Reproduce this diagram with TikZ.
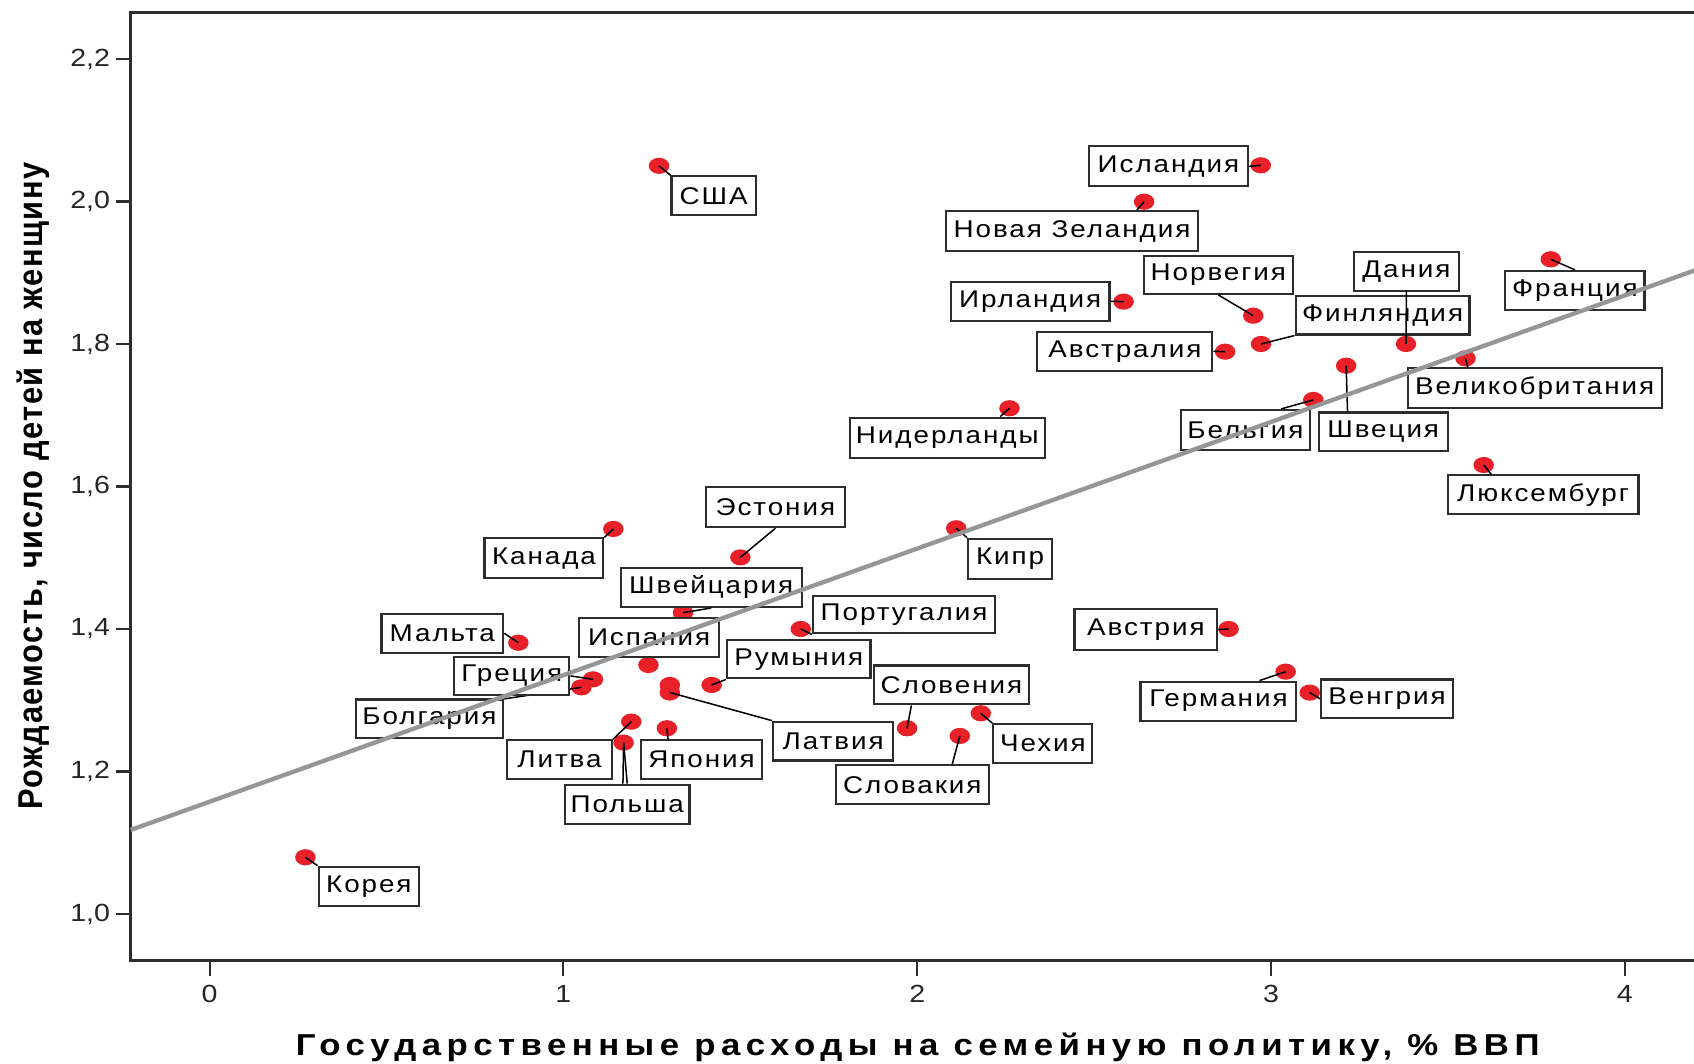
\documentclass[tikz,border=0pt]{standalone}
\usepackage{graphicx}
\usepackage{fontspec}
\setmainfont{Liberation Sans}[FakeStretch=1.15]
\newfontfamily\lblf{Liberation Sans}[FakeStretch=1.15,LetterSpace=8]
\newfontfamily\ttlf{Liberation Sans}[FakeStretch=1.15,LetterSpace=18]
\newfontfamily\yttlf{Liberation Sans}[LetterSpace=5]
\usetikzlibrary{shapes.geometric,calc}
\definecolor{dotred}{RGB}{232,32,40}
\definecolor{framec}{RGB}{45,45,45}
\definecolor{regr}{RGB}{150,150,150}
\begin{document}
\begin{tikzpicture}[x=1pt,y=-1pt,
  pt/.style={ellipse,fill=dotred,inner sep=0pt,minimum width=19pt,minimum height=15pt},
  lbl/.style={draw=framec,line width=2pt,fill=white,inner sep=0pt,minimum height=36pt,
     font=\lblf\fontsize{22.4}{24}\selectfont},
  lead/.style={black,line width=1.4pt},
  tickline/.style={framec,line width=2pt},
  ticklbl/.style={font=\fontsize{23}{24}\selectfont,text=black!85,inner sep=0pt}
]
\useasboundingbox (0,0) rectangle (1568,984);
\clip (0,0) rectangle (1568,984);
\fill[white] (0,0) rectangle (1568,984);

% frame
\coordinate (ftr) at (1570,11.5);
\coordinate (ftl) at (121,11.5);
\coordinate (fbl) at (121,889);
\coordinate (fbr) at (1570,889);
\draw[framec,line width=2.5pt] (ftr) -- (ftl) -- (fbl) -- (fbr);

% y ticks
\foreach \v/\t in {1.0/{1,0},1.2/{1,2},1.4/{1,4},1.6/{1,6},1.8/{1,8},2.0/{2,0},2.2/{2,2}}{
  \pgfmathsetmacro{\yy}{846-(\v-1)*659.5}
  \draw[tickline] (107,\yy) -- (121,\yy);
  \node[ticklbl,anchor=east] at (102,\yy) {\t};
}
% x ticks
\foreach \u in {0,1,2,3,4}{
  \pgfmathsetmacro{\xx}{194+327.5*\u}
  \draw[tickline] (\xx,889) -- (\xx,903);
  \node[ticklbl] at (\xx,920) {\u};
}

% titles
\node[anchor=base,inner sep=0pt,font=\ttlf\bfseries\fontsize{28}{30}\selectfont] (xt) at (849.5,977)
  {Государственные расходы на семейную политику, \% ВВП};
\node[anchor=base,rotate=90,inner sep=0pt] (yt) at (39.6,450)
  {\scalebox{1}[1.12]{\yttlf\bfseries\fontsize{28.5}{30}\selectfont Рождаемость, число детей на женщину}};

% data points
\node[pt] (d-usa) at (610,153.5) {};
\node[pt] (d-isl) at (1167,153) {};
\node[pt] (d-nz)  at (1059,186.7) {};
\node[pt] (d-fra) at (1435.4,240) {};
\node[pt] (d-irl) at (1040,279.2) {};
\node[pt] (d-nor) at (1160,292.2) {};
\node[pt] (d-fin) at (1167.2,318.4) {};
\node[pt] (d-dan) at (1301.4,318.4) {};
\node[pt] (d-aus) at (1134,325.5) {};
\node[pt] (d-gbr) at (1356.5,331.7) {};
\node[pt] (d-swe) at (1246,338.5) {};
\node[pt] (d-bel) at (1215.6,370.2) {};
\node[pt] (d-ned) at (934.4,377.9) {};
\node[pt] (d-lux) at (1373.3,430.4) {};
\node[pt] (d-cyp) at (885.1,489) {};
\node[pt] (d-can) at (567.7,489.6) {};
\node[pt] (d-est) at (685.3,515.9) {};
\node[pt] (d-sui) at (632.2,567.1) {};
\node[pt] (d-por) at (741.2,582.2) {};
\node[pt] (d-aut) at (1137.2,582.2) {};
\node[pt] (d-mlt) at (479.8,594.9) {};
\node[pt] (d-esp) at (600.2,615.5) {};
\node[pt] (d-deu) at (1190,621.7) {};
\node[pt] (d-grc) at (548.9,628.8) {};
\node[pt] (d-bgr) at (538.2,636.2) {};
\node[pt] (d-lva2) at (620,634) {};
\node[pt] (d-lva) at (620,641) {};
\node[pt] (d-rou) at (658.7,634) {};
\node[pt] (d-hun) at (1212.3,641.1) {};
\node[pt] (d-cze) at (907.8,660.2) {};
\node[pt] (d-ltu) at (584.3,668) {};
\node[pt] (d-jpn) at (617.3,674.1) {};
\node[pt] (d-svn) at (839.6,674.1) {};
\node[pt] (d-svk) at (888.4,681.2) {};
\node[pt] (d-pol) at (577.2,687.4) {};
\node[pt] (d-kor) at (282.7,793.5) {};

% a leader hidden behind a box
\coordinate (bgr-end) at (466,647);
\draw[lead] (d-bgr.center) -- (bgr-end);

% labels
\node[lbl,minimum width=78pt] (l-usa) at (660.6,181.2) {США};
\node[lbl,minimum width=147pt,minimum height=37pt] (l-isl) at (1081.5,154) {Исландия};
\node[lbl,minimum width=233pt,minimum height=37pt] (l-nz) at (992.3,214.1) {Новая Зеландия};
\node[lbl,minimum width=147pt] (l-irl) at (953.5,278.9) {Ирландия};
\node[lbl,minimum width=138pt,minimum height=35pt] (l-nor) at (1127.7,254.5) {Норвегия};
\node[lbl,minimum width=162pt] (l-aus) at (1041.2,325.2) {Австралия};
\node[lbl,minimum width=161pt] (l-fin) at (1279.7,291.6) {Финляндия};
\node[lbl,minimum width=97.5pt] (l-dan) at (1301.8,251) {Дания};
\node[lbl,minimum width=129pt] (l-fra) at (1457.7,268.8) {Франция};
\node[lbl,minimum width=235pt,minimum height=37pt] (l-gbr) at (1420.5,359.5) {Великобритания};
\node[lbl,minimum width=119.5pt] (l-swe) at (1280.3,399.8) {Швеция};
\node[lbl,minimum width=120pt,minimum height=37pt] (l-bel) at (1152.8,398) {Бельгия};
\node[lbl,minimum width=176.6pt] (l-lux) at (1428.3,457.9) {Люксембург};
\node[lbl,minimum width=180.4pt,minimum height=37pt] (l-ned) at (876.8,405.1) {Нидерланды};
\node[lbl,minimum width=77.7pt,minimum height=37pt] (l-cyp) at (935,517.2) {Кипр};
\node[lbl,minimum width=128.5pt,minimum height=37pt] (l-est) at (717.7,469.5) {Эстония};
\node[lbl,minimum width=110pt,minimum height=37pt] (l-can) at (503.5,516.8) {Канада};
\node[lbl,minimum width=167.5pt] (l-sui) at (658.2,543.8) {Швейцария};
\node[lbl,minimum width=130pt,minimum height=35.5pt] (l-esp) at (600.8,590) {Испания};
\node[lbl,minimum width=168.5pt,minimum height=35pt] (l-por) at (836.8,568.8) {Португалия};
\node[lbl,minimum width=132.8pt,minimum height=35.5pt] (l-rou) at (739.3,610.2) {Румыния};
\node[lbl,minimum width=143.7pt] (l-svn) at (880.6,634) {Словения};
\node[lbl,minimum width=91.7pt] (l-cze) at (965.3,688.3) {Чехия};
\node[lbl,minimum width=141.7pt] (l-svk) at (844.4,726.3) {Словакия};
\node[lbl,minimum width=111.5pt] (l-lva) at (771.2,686) {Латвия};
\node[lbl,minimum width=112.7pt] (l-mlt) at (409.4,586.2) {Мальта};
\node[lbl,minimum width=106.7pt,minimum height=35.5pt] (l-grc) at (473.7,625.6) {Греция};
\node[lbl,minimum width=136.5pt] (l-bgr) at (397.5,665.4) {Болгария};
\node[lbl,minimum width=97.3pt] (l-ltu) at (517.9,703.2) {Литва};
\node[lbl,minimum width=115.2pt] (l-pol) at (580.6,744.4) {Польша};
\node[lbl,minimum width=112.3pt] (l-jpn) at (649.4,703.2) {Япония};
\node[lbl,minimum width=132.2pt,minimum height=37.5pt] (l-aut) at (1060.7,582.8) {Австрия};
\node[lbl,minimum width=144.2pt] (l-deu) at (1127.8,649) {Германия};
\node[lbl,minimum width=121.6pt] (l-hun) at (1283.8,646.9) {Венгрия};
\node[lbl,minimum width=92.9pt] (l-kor) at (341.4,820.3) {Корея};

% leaders
\draw[lead] (d-usa.center) -- (l-usa.north west);
\draw[lead] (d-isl.center) -- (l-isl.east);
\draw[lead] (d-nz.center) -- ($(l-nz.north)+(60,0)$);
\draw[lead] (d-irl.center) -- (l-irl.east);
\draw[lead] (d-nor.center) -- (l-nor.south);
\draw[lead] (d-aus.center) -- (l-aus.east);
\draw[lead] (d-fin.center) -- (l-fin.south west);
\draw[lead] (d-dan.center) -- (l-dan.south);
\draw[lead] (d-fra.center) -- (l-fra.north);
\draw[lead] (d-gbr.center) -- ($(l-gbr.north)+(-62,0)$);
\draw[lead] (d-swe.center) -- ($(l-swe.north)+(-33,0)$);
\draw[lead] (d-bel.center) -- ($(l-bel.north)+(33,0)$);
\draw[lead] (d-lux.center) -- ($(l-lux.north)+(-48,0)$);
\draw[lead] (d-ned.center) -- ($(l-ned.north)+(49,0)$);
\draw[lead] (d-cyp.center) -- (l-cyp.north west);
\draw[lead] (d-can.center) -- (l-can.north east);
\draw[lead] (d-est.center) -- (l-est.south);
\draw[lead] (d-sui.center) -- (l-sui.south);
\draw[lead] (d-por.center) -- (l-por.south west);
\draw[lead] (d-rou.center) -- (l-rou.south west);
\draw[lead] (d-svn.center) -- ($(l-svn.south)+(-37,0)$);
\draw[lead] (d-cze.center) -- (l-cze.north west);
\draw[lead] (d-svk.center) -- ($(l-svk.north)+(37,0)$);
\draw[lead] (d-lva.center) -- (l-lva.north west);
\draw[lead] (d-mlt.center) -- (l-mlt.east);
\draw[lead] (d-grc.center) -- (l-grc.east);
\draw[lead] (d-ltu.center) -- (l-ltu.north east);
\draw[lead] (d-pol.center) -- ($(l-pol.north)+(-4,0)$);
\draw[lead] (d-pol.center) -- (l-pol.north);
\draw[lead] (d-jpn.center) -- ($(l-jpn.north)+(-31,0)$);
\draw[lead] (d-aut.center) -- (l-aut.east);
\draw[lead] (d-deu.center) -- ($(l-deu.north)+(38,0)$);
\draw[lead] (d-hun.center) -- (l-hun.west);
\draw[lead] (d-kor.center) -- (l-kor.north west);

% regression line
\coordinate (r0) at (121,768.2);
\coordinate (r1) at (1570,249.8);
\draw[regr,line width=4pt] (r0) -- (r1);
\end{tikzpicture}
\end{document}
